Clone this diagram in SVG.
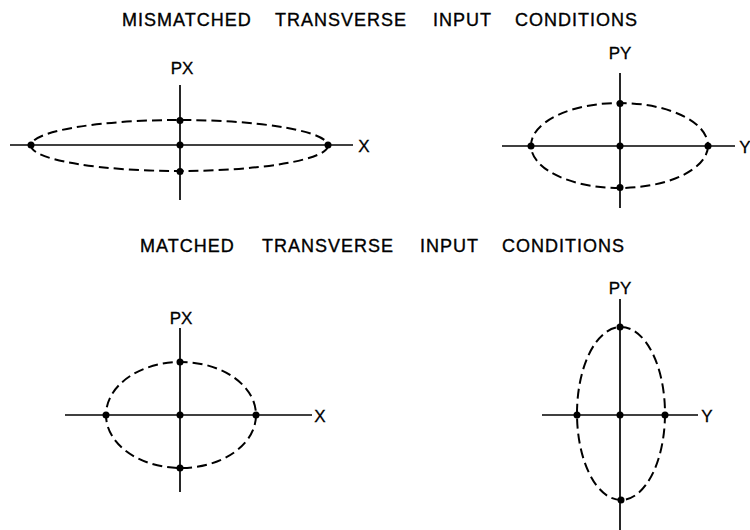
<svg xmlns="http://www.w3.org/2000/svg" width="750" height="530" viewBox="0 0 750 530">
<style>
.t{font-family:"Liberation Sans",Arial,sans-serif;font-size:18px;letter-spacing:1px;fill:#000;stroke:#000;stroke-width:0.35}
.l{font-family:"Liberation Sans",Arial,sans-serif;font-size:17px;fill:#000;stroke:#000;stroke-width:0.3}
.ax{stroke:#000;stroke-width:1.7;fill:none}
.el{stroke:#000;stroke-width:2;fill:none;stroke-dasharray:10 5}
.d{fill:#000}
</style>
<rect width="750" height="530" fill="#fff"/>
<text class="t" y="26"><tspan x="122">MISMATCHED</tspan><tspan x="275">TRANSVERSE</tspan><tspan x="433">INPUT</tspan><tspan x="515">CONDITIONS</tspan></text>
<text class="t" y="252"><tspan x="140">MATCHED</tspan><tspan x="262">TRANSVERSE</tspan><tspan x="420">INPUT</tspan><tspan x="502">CONDITIONS</tspan></text>
<g id="connectors">
<line class="ax" x1="10" y1="145" x2="353" y2="145"/>
<line class="ax" x1="180" y1="85" x2="180" y2="200"/>
<line class="ax" x1="502" y1="146" x2="735" y2="146"/>
<line class="ax" x1="620" y1="73" x2="620" y2="208"/>
<line class="ax" x1="65" y1="415" x2="312" y2="415"/>
<line class="ax" x1="180" y1="328" x2="180" y2="492"/>
<line class="ax" x1="542" y1="415" x2="698" y2="415"/>
<line class="ax" x1="620" y1="299" x2="620" y2="530"/>
</g>
<g id="mismatched-x">
<ellipse class="el" cx="179.5" cy="145.5" rx="148.5" ry="25.5"/>
<circle class="d" cx="31" cy="145" r="3.5"/><circle class="d" cx="328" cy="145" r="3.5"/>
<circle class="d" cx="180" cy="145" r="3.5"/><circle class="d" cx="180" cy="120.5" r="3.5"/><circle class="d" cx="180" cy="171.5" r="3.5"/>
<text class="l" x="182" y="74" text-anchor="middle">PX</text>
<text class="l" x="364" y="152" text-anchor="middle">X</text>
</g>
<g id="mismatched-y">
<ellipse class="el" cx="619.5" cy="145.5" rx="88.5" ry="42.5"/>
<circle class="d" cx="531" cy="146" r="3.5"/><circle class="d" cx="708" cy="146" r="3.5"/>
<circle class="d" cx="620" cy="146" r="3.5"/><circle class="d" cx="620" cy="103.5" r="3.5"/><circle class="d" cx="620" cy="187.5" r="3.5"/>
<text class="l" x="620" y="59" text-anchor="middle">PY</text>
<text class="l" x="745" y="153" text-anchor="middle">Y</text>
</g>
<g id="matched-x">
<ellipse class="el" cx="181" cy="415" rx="75" ry="53"/>
<circle class="d" cx="106" cy="415" r="3.5"/><circle class="d" cx="256" cy="415" r="3.5"/>
<circle class="d" cx="180" cy="415" r="3.5"/><circle class="d" cx="180" cy="362" r="3.5"/><circle class="d" cx="180" cy="468" r="3.5"/>
<text class="l" x="181" y="324" text-anchor="middle">PX</text>
<text class="l" x="320" y="422" text-anchor="middle">X</text>
</g>
<g id="matched-y">
<ellipse class="el" cx="621" cy="413.5" rx="44" ry="86.5"/>
<circle class="d" cx="577" cy="415" r="3.5"/><circle class="d" cx="665" cy="415" r="3.5"/>
<circle class="d" cx="620" cy="415" r="3.5"/><circle class="d" cx="620" cy="327" r="3.5"/><circle class="d" cx="621" cy="500" r="3.5"/>
<text class="l" x="620" y="294" text-anchor="middle">PY</text>
<text class="l" x="707" y="422" text-anchor="middle">Y</text>
</g>
</svg>
